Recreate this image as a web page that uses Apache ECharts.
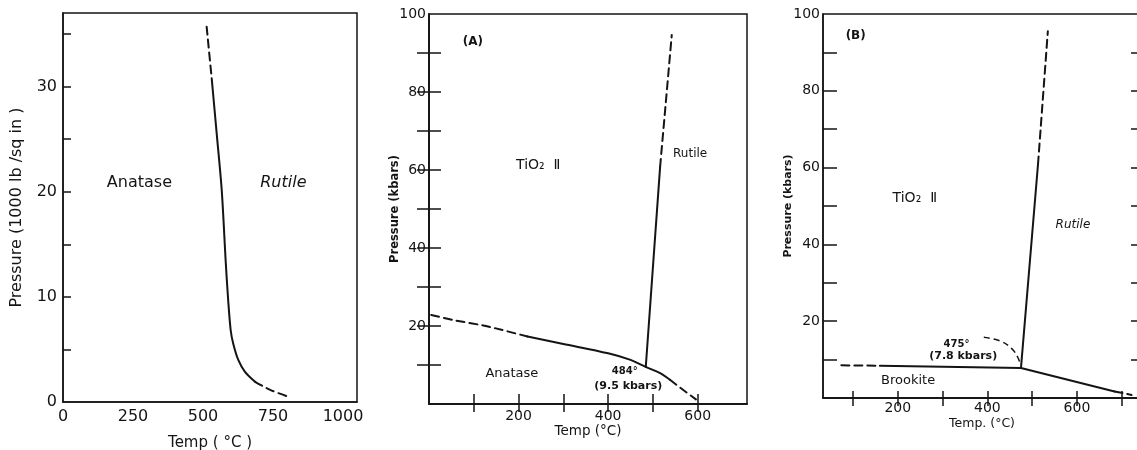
<!DOCTYPE html>
<html><head><meta charset="utf-8">
<script src="https://cdn.jsdelivr.net/npm/echarts@6/dist/echarts.min.js"></script>
<style>html,body{margin:0;padding:0;background:#fff}#c{width:1137px;height:450px}</style>
</head><body><div id="c"></div><script>
// ---------- data ----------
// Panel 1: Anatase / Rutile (Temp °C vs Pressure 1000 lb/sq in)
const p1TopDashed = [[513,35.7],[531,30.8]];
const p1Solid = [[531,30.8],[549,25.5],[567,20.1],[581,13.4],[590,9.65],[599,6.8],[608,5.55],[626,4.0],[650,2.87],[686,1.92]];
const p1BottomDashed = [[686,1.92],[740,1.15],[811,0.44]];
const p1XLabels = [0,250,500,750,1000];
const p1YTicks = [5,10,15,20,25,30,35];
const p1YLabels = [0,10,20,30];
const p1Text = [[273,20.8,'Anatase'],[787,20.8,'Rutile']];

// Panel 2 (A): TiO2 II / Anatase / Rutile (kbars)
const p2LowDashedA = [[5,22.8],[60,21.4],[127,20.0],[220,17.3]];
const p2LowSolid = [[220,17.3],[300,15.4],[400,13.0],[450,11.3],[484,9.5],[516,7.9],[538,6.2]];
const p2LowDashedB = [[538,6.2],[570,3.4],[596,1.2]];
const p2VertSolid = [[484,9.5],[516,60.8]];
const p2VertDashed = [[516,60.8],[542,94.6]];
const p2XTicks = [100,200,300,400,500,600];
const p2XLabels = [200,400,600];
const p2YTicks = [10,20,30,40,50,60,70,80,90];
const p2YLabels = [20,40,60,80,100];
const p2Text = [[98,92.8,'(A)'],[244,61.3,'TiO₂  Ⅱ'],[583,64.1,'Rutile'],[185,7.7,'Anatase'],[437,8.3,'484°'],[445,4.6,'(9.5 kbars)']];

// Panel 3 (B): TiO2 II / Brookite / Rutile (kbars)
const p3TopDashed = [[74,8.5],[160,8.4]];
const p3TopSolid = [[160,8.4],[475,7.8]];
const p3LowSolid = [[475,7.8],[684,1.7]];
const p3LowDashed = [[684,1.7],[705,1.2],[722,0.8]];
const p3VertSolid = [[475,7.8],[513,60.8]];
const p3VertDashed = [[513,60.8],[535,95.5]];
const p3Leader = [[392,15.8],[430,14.8],[455,12.8],[468,10.6],[473,9.0]];
const p3XTicks = [100,200,300,400,500,600,700];
const p3XLabels = [200,400,600];
const p3YTicks = [10,20,30,40,50,60,70,80,90];
const p3YLabels = [20,40,60,80,100];
const p3Text = [[106,94.2,'(B)'],[238,52.1,'TiO₂  Ⅱ'],[591,45.1,'Rutile'],[223,4.6,'Brookite'],[331,13.9,'475°'],[346,10.8,'(7.8 kbars)']];

// ---------- styling ----------
const INK = '#141414';
const FONT = 'DejaVu Sans';
const textStyles = {
  'Anatase': {fontSize: 16},
  'Rutile': {fontSize: 16, fontStyle: 'italic'}
};
const p2Styles = {
  '(A)': {fontSize: 12, fontWeight: 'bold'},
  'TiO₂  Ⅱ': {fontSize: 14},
  'Rutile': {fontSize: 12},
  'Anatase': {fontSize: 13},
  '484°': {fontSize: 10, fontWeight: 'bold'},
  '(9.5 kbars)': {fontSize: 11, fontWeight: 'bold'}
};
const p3Styles = {
  '(B)': {fontSize: 12, fontWeight: 'bold'},
  'TiO₂  Ⅱ': {fontSize: 14},
  'Rutile': {fontSize: 12, fontStyle: 'italic'},
  'Brookite': {fontSize: 13},
  '475°': {fontSize: 10, fontWeight: 'bold'},
  '(7.8 kbars)': {fontSize: 11, fontWeight: 'bold'}
};

function axLine() { return {show: true, lineStyle: {color: INK, width: 1.5}}; }
function ticks(vals, len) {
  return vals ? {show: true, inside: true, length: len, customValues: vals, lineStyle: {color: INK, width: 1.5}} : {show: false};
}
function labs(vals, size, margin) {
  return vals ? {show: true, customValues: vals, fontSize: size, margin: margin, color: INK, fontFamily: FONT,
                 formatter: v => String(v)} : {show: false};
}
function nameStyle(size, weight) {
  return {fontSize: size, fontWeight: weight || 'normal', color: INK, fontFamily: FONT};
}

function line(data, xi, yi, dashed, smooth) {
  return {
    type: 'line', data: data, xAxisIndex: xi, yAxisIndex: yi,
    symbol: 'none', showSymbol: false, smooth: smooth || false, silent: true,
    lineStyle: {color: INK, width: 2, type: dashed ? [8, 5] : 'solid', cap: 'round'},
    animation: false, z: 3
  };
}
function annot(arr, xi, yi, styles) {
  return {
    type: 'scatter', xAxisIndex: xi, yAxisIndex: yi, symbolSize: 0, silent: true,
    itemStyle: {color: INK, opacity: 1}, animation: false, z: 4,
    data: arr.map(a => ({
      value: [a[0], a[1]],
      label: Object.assign({show: true, position: 'inside', formatter: a[2], color: INK, opacity: 1, fontFamily: FONT}, styles[a[2]] || {})
    }))
  };
}

function grid(left, top, width, height) {
  return {left: left, top: top, width: width, height: height, show: true, borderColor: INK, borderWidth: 1.5,
          backgroundColor: 'transparent', outerBoundsMode: 'none', containLabel: false};
}

const chart = echarts.init(document.getElementById('c'), null, {renderer: 'canvas'});
chart.setOption({
  backgroundColor: '#ffffff',
  animation: false,
  grid: [grid(63, 13, 294, 389), grid(429, 14, 318, 390), grid(823, 14, 318, 384)],
  xAxis: [
    {type: 'value', gridIndex: 0, min: 0, max: 1050, position: 'bottom', axisLine: axLine(), axisTick: ticks(null),
     axisLabel: labs(p1XLabels, 16, 7), splitLine: {show: false},
     name: 'Temp ( °C )', nameLocation: 'middle', nameGap: 34, nameTextStyle: nameStyle(15)},
    {type: 'value', gridIndex: 1, min: 0, max: 710, position: 'bottom', axisLine: axLine(), axisTick: ticks(p2XTicks, 10),
     axisLabel: labs(p2XLabels, 14, 5), splitLine: {show: false},
     name: 'Temp (°C)', nameLocation: 'middle', nameGap: 20, nameMoveOverlap: false, nameTextStyle: nameStyle(13.5)},
    {type: 'value', gridIndex: 1, min: 0, max: 710, position: 'top', axisLine: axLine(), axisTick: ticks(p2XTicks, 8),
     axisLabel: {show: false}, splitLine: {show: false}},
    {type: 'value', gridIndex: 2, min: 33, max: 743, position: 'bottom', axisLine: axLine(), axisTick: ticks(p3XTicks, 7),
     axisLabel: labs(p3XLabels, 14, 3), splitLine: {show: false},
     name: 'Temp. (°C)', nameLocation: 'middle', nameGap: 19, nameMoveOverlap: false, nameTextStyle: nameStyle(12.5)},
    {type: 'value', gridIndex: 2, min: 33, max: 743, position: 'top', axisLine: axLine(), axisTick: ticks(p3XTicks, 8),
     axisLabel: {show: false}, splitLine: {show: false}}
  ],
  yAxis: [
    {type: 'value', gridIndex: 0, min: 0, max: 37, position: 'left', axisLine: axLine(), axisTick: ticks(p1YTicks, 8),
     axisLabel: labs(p1YLabels, 16, 6), splitLine: {show: false},
     name: 'Pressure (1000 lb /sq in )', nameLocation: 'middle', nameGap: 38, nameTextStyle: nameStyle(16)},
    {type: 'value', gridIndex: 1, min: 0, max: 100, position: 'left', axisLine: axLine(), axisTick: ticks(p2YTicks, 12),
     axisLabel: labs(p2YLabels, 14, 3), splitLine: {show: false},
     name: 'Pressure (kbars)', nameLocation: 'middle', nameGap: 28, nameMoveOverlap: false, nameTextStyle: nameStyle(11.5, 'bold')},
    {type: 'value', gridIndex: 1, min: 0, max: 100, position: 'right', axisLine: axLine(), axisTick: ticks(p2YTicks, 12),
     axisLabel: {show: false}, splitLine: {show: false}},
    {type: 'value', gridIndex: 2, min: 0, max: 100, position: 'left', axisLine: axLine(), axisTick: ticks(p3YTicks, 14),
     axisLabel: labs(p3YLabels, 14, 3), splitLine: {show: false},
     name: 'Pressure (kbars)', nameLocation: 'middle', nameGap: 29, nameMoveOverlap: false, nameTextStyle: nameStyle(11, 'bold')},
    {type: 'value', gridIndex: 2, min: 0, max: 100, position: 'right', axisLine: axLine(), axisTick: ticks(p3YTicks, 10),
     axisLabel: {show: false}, splitLine: {show: false}}
  ],
  series: [
    line(p1TopDashed, 0, 0, true),
    line(p1Solid, 0, 0, false, 0.3),
    line(p1BottomDashed, 0, 0, true, 0.3),
    annot(p1Text, 0, 0, textStyles),

    line(p2LowDashedA, 1, 1, true, 0.2),
    line(p2LowSolid, 1, 1, false, 0.3),
    line(p2LowDashedB, 1, 1, true, 0.2),
    line(p2VertSolid, 1, 1, false),
    line(p2VertDashed, 1, 1, true),
    annot(p2Text, 1, 1, p2Styles),

    line(p3TopDashed, 3, 3, true),
    line(p3TopSolid, 3, 3, false),
    line(p3LowSolid, 3, 3, false),
    line(p3LowDashed, 3, 3, true, 0.3),
    line(p3VertSolid, 3, 3, false),
    line(p3VertDashed, 3, 3, true),
    Object.assign(line(p3Leader, 3, 3, true, 0.4), {lineStyle: {color: INK, width: 1.5, type: [6, 4]}}),
    annot(p3Text, 3, 3, p3Styles)
  ]
});
</script></body></html>
